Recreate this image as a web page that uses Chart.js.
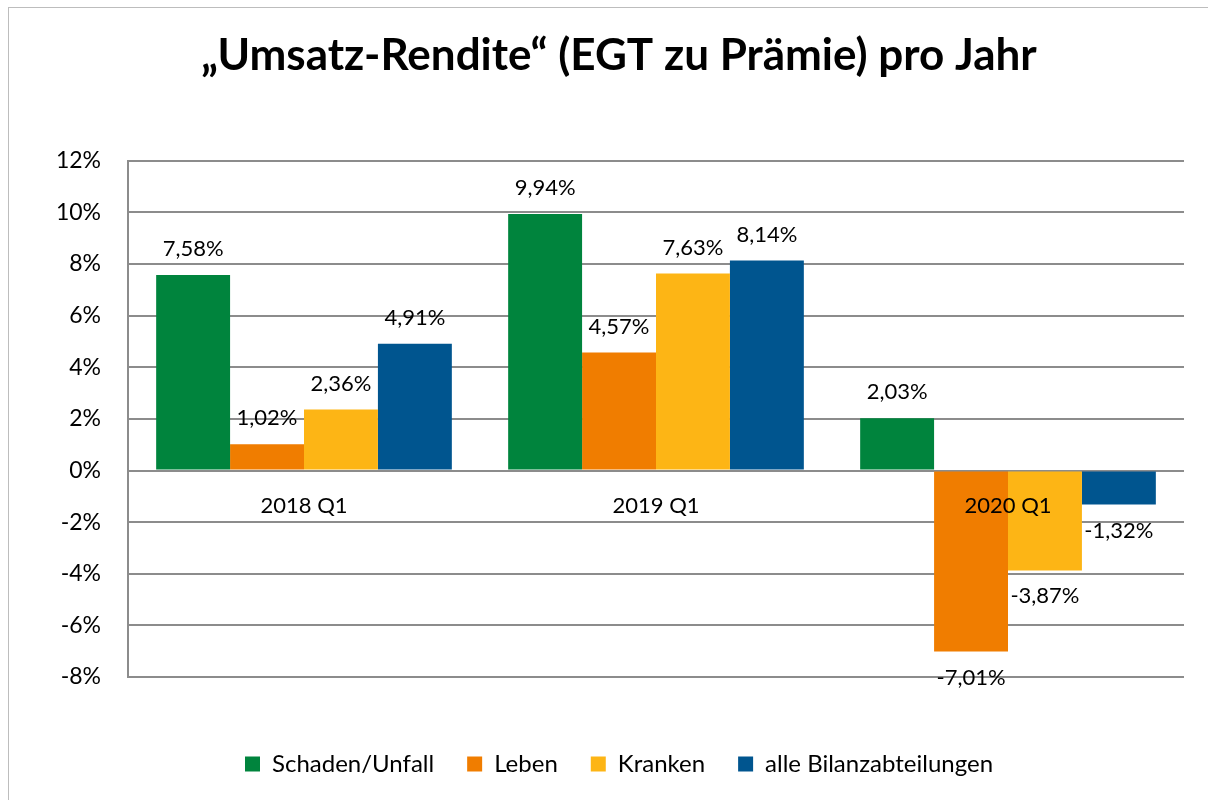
<!DOCTYPE html>
<html lang="de">
<head>
<meta charset="utf-8">
<script src="https://cdn.jsdelivr.net/npm/chart.js@4"></script>
<style>
  html, body { margin: 0; padding: 0; background: #fff; overflow: hidden; }
  #wrap { position: relative; width: 1208px; height: 800px; }
  #frame { position: absolute; left: 8px; top: 7px; width: 1300px; height: 900px; border: 1px solid #bdbdbd; }
  canvas { position: absolute; left: 0; top: 0; }
</style>
</head>
<body>
<div id="wrap">
  <div id="frame"></div>
  <canvas id="renditeChart" width="1208" height="800"></canvas>
</div>
<script>
const categories = ["2018 Q1", "2019 Q1", "2020 Q1"];
const schadenUnfall = [7.58, 9.94, 2.03];
const leben = [1.02, 4.57, -7.01];
const kranken = [2.36, 7.63, -3.87];
const alleBilanz = [4.91, 8.14, -1.32];
const yTicks = [-8, -6, -4, -2, 0, 2, 4, 6, 8, 10, 12];

const FONT = "Lato, 'Open Sans', sans-serif";

function formatPct(v) {
  return v.toFixed(2).replace(".", ",") + "%";
}

// Werte über / unter den Balken
const valueLabels = {
  id: "valueLabels",
  afterDatasetsDraw(chart) {
    const ctx = chart.ctx;
    ctx.save();
    ctx.font = "22px " + FONT;
    ctx.fillStyle = "#000";
    ctx.textAlign = "center";
    ctx.textBaseline = "middle";
    chart.data.datasets.forEach((ds, i) => {
      chart.getDatasetMeta(i).data.forEach((bar, j) => {
        const v = ds.data[j];
        const y = v >= 0 ? bar.y - 26 : bar.y + 26;
        ctx.fillText(formatPct(v), bar.x, y);
      });
    });
    ctx.restore();
  },
};

const ctx = document.getElementById("renditeChart").getContext("2d");

new Chart(ctx, {
  type: "bar",
  data: {
    labels: categories,
    datasets: [
      { label: "Schaden/Unfall", data: schadenUnfall, backgroundColor: "#00843D" },
      { label: "Leben", data: leben, backgroundColor: "#F07D00" },
      { label: "Kranken", data: kranken, backgroundColor: "#FDB515" },
      { label: "alle Bilanzabteilungen", data: alleBilanz, backgroundColor: "#00558F" },
    ],
  },
  options: {
    responsive: false,
    animation: false,
    layout: {
      padding: { top: 0, left: 30, right: 0, bottom: 14 },
    },
    datasets: {
      bar: { categoryPercentage: 0.84, barPercentage: 1.0 },
    },
    scales: {
      x: {
        position: { y: 0 },
        grid: { display: false, drawTicks: false },
        border: { display: false },
        ticks: {
          z: 1,
          color: "#000",
          font: { family: FONT, size: 22 },
          padding: 22,
        },
      },
      y: {
        min: -8,
        max: 12,
        afterBuildTicks(scale) {
          scale.ticks = yTicks.map((v) => ({ value: v }));
        },
        afterFit(scale) {
          scale.width = 98;
        },
        grid: { color: "#8c8c8c", lineWidth: 2, drawTicks: false },
        border: { display: true, color: "#8c8c8c", width: 2 },
        ticks: {
          color: "#000",
          font: { family: FONT, size: 23 },
          padding: 27,
          callback: (v) => v + "%",
        },
      },
      // nur Platzhalter für den rechten Rand
      yRand: {
        position: "right",
        min: -8,
        max: 12,
        afterFit(scale) {
          scale.width = 24;
        },
        grid: { display: false, drawTicks: false },
        border: { display: false },
        ticks: { display: false },
      },
    },
    plugins: {
      title: {
        display: true,
        text: "„Umsatz-Rendite“ (EGT zu Prämie) pro Jahr",
        color: "#000",
        font: { family: FONT, size: 44, weight: "bold" },
        padding: { top: 29, bottom: 79 },
      },
      legend: {
        position: "bottom",
        title: { display: true, text: "", font: { size: 10 }, padding: { top: 30, bottom: 0 } },
        labels: {
          color: "#000",
          font: { family: FONT, size: 24 },
          boxWidth: 15,
          boxHeight: 15,
          padding: 33,
        },
      },
      tooltip: { enabled: false },
    },
  },
  plugins: [valueLabels],
});
</script>
</body>
</html>
